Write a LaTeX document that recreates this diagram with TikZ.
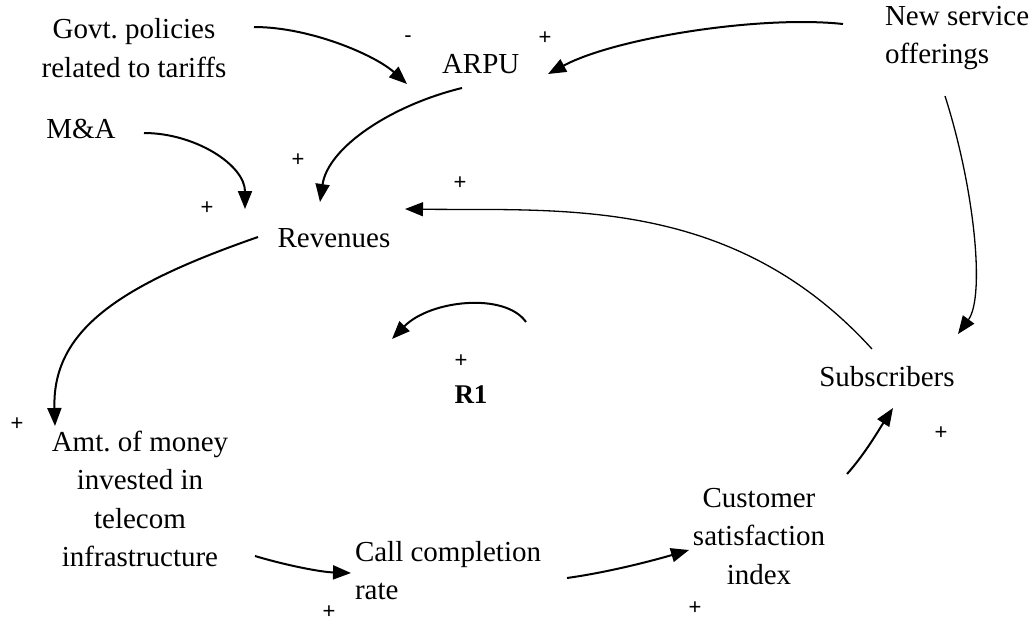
\documentclass[tikz,border=0pt]{standalone}
\usepackage{fontspec}
\setmainfont{Liberation Serif}
\newfontfamily\signfont{Liberation Sans}
\usetikzlibrary{arrows.meta,calc}
\frenchspacing

\begin{document}
\begin{tikzpicture}[x=1pt,y=-1pt,
  var/.style={inner sep=0pt, outer sep=0pt, align=center,
    font=\fontsize{29}{38.5}\selectfont,
    execute at begin node=\strut, execute at end node=\strut},
  lvar/.style={var, align=left, anchor=west},
  loopname/.style={var, font=\fontsize{27}{38.5}\selectfont\bfseries},
  sign/.style={inner sep=0pt, outer sep=0pt, font=\signfont\fontsize{22}{26}\selectfont},
  link/.style={line width=2pt, -{Triangle[length=18pt,width=14pt]}},
  thinlink/.style={link, line width=1.3pt}
]
\useasboundingbox (0,0) rectangle (1034,622);

% variables
\node[var]  (govt) at (134,53.8)  {Govt. policies\\related to tariffs};
\node[var]  (arpu) at (480.7,65.3) {ARPU};
\node[lvar] (new)  at (885,40.8)  {New service\\offerings};
\node[var]  (ma)   at (81,130.3)  {M\&A};
\node[var]  (rev)  at (334,239.3) {Revenues};
\node[var]  (subs) at (887,378.3) {Subscribers};
\node[var]  (amt)  at (140,504.8) {Amt. of money\\invested in\\telecom\\infrastructure};
\node[lvar] (call) at (355,576.3) {Call completion\\rate};
\node[var]  (cust) at (759,541.8) {Customer\\satisfaction\\index};
\node[loopname] (r1) at (471,395.3) {R1};

% causal links
\draw[link] ($(govt)+(120,-26.8)$) .. controls +(56,0) and +(-32,-29) .. ($(arpu)+(-73.7,18.7)$);
\draw[link] ($(new.west)+(-42,-16.8)$) .. controls +(-83,-9) and +(67,-36) .. ($(arpu)+(67.3,8.7)$);
\draw[link] ($(arpu)+(-18.7,22.7)$) .. controls +(-70,17) and +(8,-55) .. ($(rev)+(-14,-37.3)$);
\draw[link] ($(ma)+(63,2.7)$) .. controls +(51,0) and +(0,-44) .. ($(rev)+(-89,-30.3)$);
\draw[thinlink] ($(new.west)+(60,55.2)$) .. controls +(30,94) and +(27,-37) .. ($(subs)+(71,-44.3)$);
\draw[thinlink] ($(subs)+(-15,-29.3)$) .. controls +(-140,-154) and +(155,2) .. ($(rev)+(71,-30.3)$);
\draw[link] ($(rev)+(-76,-2.3)$) .. controls +(-138,48) and +(-3,-96) .. ($(amt)+(-85,-78.8)$);
\draw[link] ($(amt)+(115,51.2)$) .. controls +(30,9) and +(-31,-1) .. ($(call.west)+(-4,-3.3)$);
\draw[link] ($(call.west)+(212,1.7)$) .. controls +(43,-6) and +(-34,10) .. ($(cust)+(-70,8.2)$);
\draw[link] ($(cust)+(88,-67.8)$) .. controls +(18,-20) and +(-13,20) .. ($(subs)+(6,29.7)$);

% loop direction marker
\draw[link] ($(r1)+(55,-73.3)$) .. controls +(-21,-30) and +(38,-39) .. ($(r1)+(-79,-56.3)$);

% link polarities
\node[sign] (s1)  at (408,39)  {-};
\node[sign] (s2)  at (545,38)  {+};
\node[sign] (s3)  at (298,160) {+};
\node[sign] (s4)  at (207,208) {+};
\node[sign] (s5)  at (460,183) {+};
\node[sign] (s6)  at (17,424)  {+};
\node[sign] (s7)  at (329,612) {+};
\node[sign] (s8)  at (695,608) {+};
\node[sign] (s9)  at (941,433) {+};
\node[sign] (s10) at (461,361) {+};
\end{tikzpicture}
\end{document}
